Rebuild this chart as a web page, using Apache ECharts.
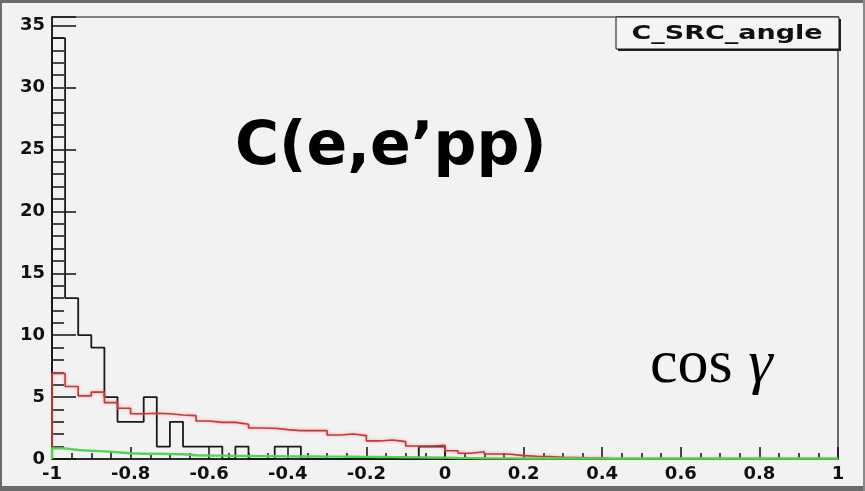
<!DOCTYPE html>
<html>
<head>
<meta charset="utf-8">
<script src="https://cdn.jsdelivr.net/npm/echarts@6/dist/echarts.min.js"></script>
<style>
  html, body { margin: 0; padding: 0; background: #f2f2f2; }
  #chart { width: 865px; height: 491px; }
</style>
</head>
<body>
<div id="chart"></div>
<script>
// cos(gamma) histogram: 60 bins between -1 and 1
const xRange = [-1, 1];
const yMax = 35.7;

// measured C(e,e'pp) events per bin
const dataCounts = [
  34, 13, 10, 9, 5, 3, 3, 5, 1, 3,
  1, 1, 1, 0, 1, 0, 0, 1, 1, 0,
  0, 0, 0, 0, 0, 0, 0, 0, 1, 1,
  0, 0, 0, 0, 0, 0, 0, 0, 0, 0,
  0, 0, 0, 0, 0, 0, 0, 0, 0, 0,
  0, 0, 0, 0, 0, 0, 0, 0, 0, 0
];

// simulation (red)
const simRed = [
  6.9, 5.85, 5.1, 5.4, 4.55, 4.1, 3.65, 3.7, 3.65, 3.55,
  3.5, 3.07, 2.96, 2.96, 2.8, 2.5, 2.48, 2.37, 2.29, 2.29,
  2.29, 1.94, 2.02, 1.89, 1.46, 1.54, 1.4, 1.05, 1.05, 1.1,
  0.67, 0.46, 0.59, 0.4, 0.38, 0.27, 0.22, 0.2, 0.14, 0.12,
  0.1, 0.08, 0, 0, 0, 0, 0, 0, 0, 0,
  0, 0, 0, 0, 0, 0, 0, 0, 0, 0
];

// simulation (green)
const simGreen = [
  0.86, 0.73, 0.67, 0.62, 0.54, 0.46, 0.43, 0.43, 0.4, 0.38,
  0.3, 0.28, 0.27, 0.25, 0.24, 0.23, 0.22, 0.21, 0.2, 0.2,
  0.19, 0.19, 0.18, 0.17, 0.16, 0.15, 0.14, 0.13, 0.12, 0.11,
  0.08, 0.07, 0.06, 0.05, 0.05, 0.04, 0.04, 0.04, 0.04, 0.04,
  0.04, 0.04, 0.04, 0.04, 0.04, 0.04, 0.04, 0.04, 0.04, 0.04,
  0.04, 0.04, 0.04, 0.04, 0.04, 0.04, 0.04, 0.04, 0.04, 0.04
];

const xTickStep = 0.2;
const yTickStep = 5;
const histName = 'C_SRC_angle';
const reactionLabel = 'C(e,e\u2019pp)';

// outline of a histogram: corners of every bin, closed at the axis
function outline(vals) {
  const w = (xRange[1] - xRange[0]) / vals.length;
  const pts = [[xRange[0], 0]];
  vals.forEach((v, i) => {
    pts.push([xRange[0] + i * w, v]);
    pts.push([xRange[0] + (i + 1) * w, v]);
  });
  pts.push([xRange[1], 0]);
  return pts;
}

const boldFont = '"DejaVu Sans", "Liberation Sans", Arial, sans-serif';
const serifFont = '"Liberation Serif", "Times New Roman", serif';
const G = { left: 52, top: 17, right: 27, bottom: 32 };

const chart = echarts.init(document.getElementById('chart'), null, { renderer: 'canvas' });

function histSeries(name, vals, lineStyle, z) {
  return {
    name: name,
    type: 'line',
    data: outline(vals),
    showSymbol: false,
    symbol: 'none',
    silent: true,
    z: z,
    lineStyle: lineStyle,
    animation: false
  };
}

chart.setOption({
  backgroundColor: '#f2f2f2',
  animation: false,
  grid: {
    left: G.left, top: G.top, right: G.right, bottom: G.bottom,
    show: true, borderColor: '#111', borderWidth: 1.2, backgroundColor: 'transparent'
  },
  xAxis: {
    type: 'value',
    min: xRange[0], max: xRange[1], interval: xTickStep,
    axisLine: { show: true, onZero: false, lineStyle: { color: '#111', width: 1.5 } },
    axisTick: { show: true, inside: true, length: 12, lineStyle: { color: '#111', width: 1.5 } },
    minorTick: { show: true, splitNumber: 4, length: 6, lineStyle: { color: '#111', width: 1.5 } },
    splitLine: { show: false },
    axisLabel: {
      margin: 6, color: '#111', fontFamily: boldFont, fontWeight: 'bold', fontSize: 18,
      formatter: v => String(Math.round(v * 10) / 10)
    }
  },
  yAxis: [
    {
      type: 'value',
      min: 0, max: yMax, interval: yTickStep,
      axisLine: { show: true, onZero: false, lineStyle: { color: '#111', width: 1.5 } },
      axisTick: { show: true, inside: true, length: 24, lineStyle: { color: '#111', width: 1.5 } },
      splitLine: { show: false },
      axisLabel: {
        margin: 7, color: '#111', fontFamily: boldFont, fontWeight: 'bold', fontSize: 18,
        formatter: v => (Math.abs(v % yTickStep) < 1e-6 ? String(v) : '')
      }
    },
    {
      // unit ticks along the left edge
      type: 'value', position: 'left', offset: 0,
      min: 0, max: yMax, interval: 1,
      axisLine: { show: false, onZero: false },
      axisTick: { show: true, inside: true, length: 12, lineStyle: { color: '#111', width: 1.5 } },
      axisLabel: { show: false },
      splitLine: { show: false }
    }
  ],
  series: [
    histSeries('data', dataCounts, { color: '#1a1a1a', width: 1.8 }, 3),
    histSeries('red', simRed, { color: '#c83838', width: 1.6, shadowColor: 'rgba(235,120,120,0.7)', shadowBlur: 3 }, 4),
    histSeries('green', simGreen, { color: '#52d452', width: 2.4 }, 5)
  ],
  graphic: [
    // canvas border
    { type: 'rect', shape: { x: 0, y: 0, width: 865, height: 3 }, style: { fill: '#6b6b6b' }, silent: true },
    { type: 'rect', shape: { x: 0, y: 486, width: 865, height: 5 }, style: { fill: '#6b6b6b' }, silent: true },
    { type: 'rect', shape: { x: 0, y: 0, width: 2, height: 491 }, style: { fill: '#6b6b6b' }, silent: true },
    { type: 'rect', shape: { x: 863, y: 0, width: 2, height: 491 }, style: { fill: '#8a8a8a' }, silent: true },
    // name box with shadow
    { type: 'rect', shape: { x: 618, y: 19, width: 223, height: 32 }, style: { fill: '#222' }, silent: true, z: 10 },
    { type: 'rect', shape: { x: 616, y: 17, width: 223, height: 32 }, style: { fill: '#f4f4f4', stroke: '#111', lineWidth: 1 }, silent: true, z: 11 },
    {
      type: 'text', x: 727, y: 34, z: 12, silent: true, scaleX: 1.35,
      style: { text: histName, fill: '#111', font: 'bold 20px ' + boldFont, textAlign: 'center', textVerticalAlign: 'middle' }
    },
    {
      type: 'text', x: 235, y: 148, z: 12, silent: true,
      style: { text: reactionLabel, fill: '#000', font: 'bold 60px ' + boldFont, textAlign: 'left', textVerticalAlign: 'middle' }
    },
    {
      type: 'text', x: 650, y: 366, z: 12, silent: true,
      style: {
        text: '{a|cos }{b|\u03b3}',
        textAlign: 'left', textVerticalAlign: 'middle',
        rich: {
          a: { font: '62px ' + serifFont, fill: '#000' },
          b: { font: 'italic 62px ' + serifFont, fill: '#000' }
        }
      }
    }
  ]
});
</script>
</body>
</html>
